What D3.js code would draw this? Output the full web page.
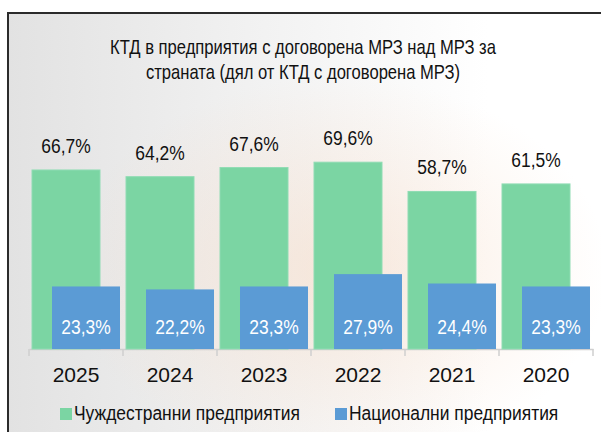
<!DOCTYPE html>
<html>
<head>
<meta charset="utf-8">
<script src="https://cdn.jsdelivr.net/npm/d3@7"></script>
<style>
  html, body { margin: 0; padding: 0; background: #fff; }
  svg { display: block; }
  text { font-family: "Liberation Sans", Arial, sans-serif; }
</style>
</head>
<body>
<div id="chart"></div>
<script>
'use strict';

let years = ['2025', '2024', '2023', '2022', '2021', '2020'];
let foreign = [66.7, 64.2, 67.6, 69.6, 58.7, 61.5];
let national = [23.3, 22.2, 23.3, 27.9, 24.4, 23.3];
let seriesNames = ['Чуждестранни предприятия', 'Национални предприятия'];
let titleLines = ['КТД в предприятия с договорена МРЗ над МРЗ за', 'страната (дял от КТД с договорена МРЗ)'];

let W = 601, H = 432;
let green = '#7bd5a3', blue = '#5b9bd5';
// no narrow font installed, so squeeze the regular one
let NARROW = 0.83;

function fmt(v) {
    return v.toFixed(1).replace('.', ',') + '%';
}

function squeeze(x, y) {
    return 'translate(' + x + ',' + y + ') scale(' + NARROW + ',1)';
}

draw();

function draw() {
    let svg = d3.select('#chart').append('svg')
        .attr('width', W)
        .attr('height', H);

    let defs = svg.append('defs');
    let lg = defs.append('linearGradient').attr('id', 'bg').attr('x1', 0).attr('x2', 1).attr('y1', 0).attr('y2', 0);
    lg.append('stop').attr('offset', '0%').attr('stop-color', '#e2e2e2');
    lg.append('stop').attr('offset', '40%').attr('stop-color', '#f1f1f1');
    lg.append('stop').attr('offset', '80%').attr('stop-color', '#ffffff');
    let rg = defs.append('radialGradient').attr('id', 'glow')
        .attr('cx', 0.55).attr('cy', 0.6).attr('r', 0.45);
    rg.append('stop').attr('offset', '0%').attr('stop-color', '#f6d7bf').attr('stop-opacity', 0.5);
    rg.append('stop').attr('offset', '100%').attr('stop-color', '#f6d7bf').attr('stop-opacity', 0);

    // panel background + frame
    svg.append('rect').attr('x', 7).attr('y', 12).attr('width', W).attr('height', H)
        .attr('fill', 'url(#bg)');
    svg.append('rect').attr('x', 7).attr('y', 12).attr('width', W).attr('height', H)
        .attr('fill', 'url(#glow)');
    svg.append('path').attr('d', 'M8,' + H + 'V13H' + W)
        .attr('fill', 'none').attr('stroke', '#2b2b2b').attr('stroke-width', 2);

    // title
    svg.append('text')
        .attr('transform', squeeze(303, 54))
        .attr('text-anchor', 'middle')
        .attr('font-size', 20).attr('fill', '#111')
        .selectAll('tspan').data(titleLines).enter().append('tspan')
        .attr('x', 0)
        .attr('dy', function (d, i) { return i === 0 ? 0 : 25; })
        .text(function (d) { return d; });

    let x = d3.scaleBand().domain(years).range([29, 593]).padding(0);
    let y = d3.scaleLinear().domain([0, 100]).range([349, 80.6]);
    let bw = x.bandwidth();
    let barW = bw * 68 / 94;
    let offG = bw * 3 / 94, offB = bw * 23 / 94;

    // axis
    let axis = svg.append('g').attr('transform', 'translate(0,' + y(0) + ')')
        .call(d3.axisBottom(x).tickSize(0).tickFormat(''));
    axis.select('.domain').attr('stroke', '#cfcfcf').attr('stroke-width', 1.5);
    axis.selectAll('.tick').remove();
    axis.selectAll('line.sep').data(years.concat(['end'])).enter().append('line')
        .attr('class', 'sep')
        .attr('x1', function (d, i) { return 29 + i * bw; })
        .attr('x2', function (d, i) { return 29 + i * bw; })
        .attr('y1', 0).attr('y2', 7)
        .attr('stroke', '#cfcfcf').attr('stroke-width', 1.5);

    let rows = years.map(function (yr, i) {
        return { year: yr, f: foreign[i], n: national[i] };
    });

    // foreign bars
    svg.append('g').selectAll('rect').data(rows).enter().append('rect')
        .attr('x', function (d) { return x(d.year) + offG; })
        .attr('y', function (d) { return y(d.f); })
        .attr('width', barW)
        .attr('height', function (d) { return y(0) - y(d.f); })
        .attr('fill', green)
        .attr('stroke', '#8fdcb3').attr('stroke-width', 1);

    svg.append('g').selectAll('text').data(rows).enter().append('text')
        .attr('transform', function (d) { return squeeze(x(d.year) + offG + barW / 2, y(d.f) - 17); })
        .attr('text-anchor', 'middle')
        .attr('font-size', 21).attr('fill', '#111')
        .text(function (d) { return fmt(d.f); });

    // national bars
    svg.append('g').selectAll('rect').data(rows).enter().append('rect')
        .attr('x', function (d) { return x(d.year) + offB; })
        .attr('y', function (d) { return y(d.n); })
        .attr('width', barW)
        .attr('height', function (d) { return y(0) - y(d.n); })
        .attr('fill', blue);

    svg.append('g').selectAll('text').data(rows).enter().append('text')
        .attr('transform', function (d) { return squeeze(x(d.year) + offB + barW / 2, y(0) - 15); })
        .attr('text-anchor', 'middle')
        .attr('font-size', 21).attr('fill', '#fff')
        .text(function (d) { return fmt(d.n); });

    // year labels
    svg.append('g').selectAll('text').data(years).enter().append('text')
        .attr('x', function (d) { return x(d) + bw / 2; })
        .attr('y', 382)
        .attr('text-anchor', 'middle')
        .attr('font-size', 21).attr('fill', '#111')
        .text(function (d) { return d; });

    // legend
    let legendX = [60, 335];
    let lgd = svg.append('g').selectAll('g').data(seriesNames).enter().append('g')
        .attr('transform', function (d, i) { return 'translate(' + legendX[i] + ',408)'; });
    lgd.append('rect').attr('width', 12).attr('height', 12)
        .attr('fill', function (d, i) { return i === 0 ? green : blue; });
    lgd.append('text')
        .attr('transform', squeeze(14, 12))
        .attr('font-size', 21).attr('fill', '#111')
        .text(function (d) { return d; });
}
</script>
</body>
</html>
